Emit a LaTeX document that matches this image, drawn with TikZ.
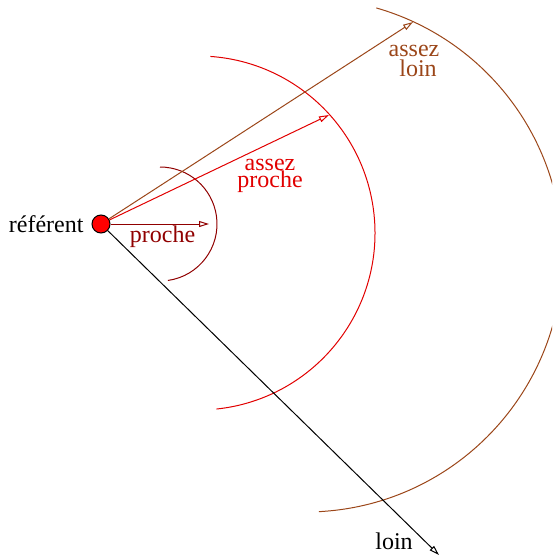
\documentclass[tikz,border=0pt]{standalone}
\usepackage{fontspec}
\setmainfont{Liberation Serif}
\usetikzlibrary{arrows.meta}
\definecolor{farbrown}{RGB}{155,70,25}
\definecolor{neardark}{RGB}{144,0,0}
\definecolor{midred}{RGB}{225,0,0}

\begin{document}
\begin{tikzpicture}[x=0.5pt, y=-0.5pt, line width=0.5pt,
    reach/.style={-{Triangle[open,length=5pt,width=3pt]}},
    lab/.style={anchor=base, inner sep=0pt, font=\fontsize{12}{14}\selectfont}]
    \useasboundingbox (0,0) rectangle (552,557);

    % the referent
    \node[circle, draw=black, fill=red, minimum size=9pt, inner sep=0pt] (ref) at (101,224) {};
    \node[lab, anchor=base east] (reflab) at (84,232) {référent};

    % zones
    \draw[neardark] (160,224) ++(82:57) arc[start angle=82, end angle=-90, radius=57];
    \draw[midred] (198,233) ++(84:177) arc[start angle=84, end angle=-86, radius=177];
    \begin{scope}
        \clip (0,0) rectangle (552,557);
        \draw[farbrown] (305.5,255) ++(87:257) arc[start angle=87, end angle=-74, radius=257];
    \end{scope}

    % arrow ends
    \coordinate (nearT) at (209,224);
    \coordinate (midT) at (329,115);
    \coordinate (farT) at (413,22);
    \coordinate (outT) at (439,555);

    \draw[reach, neardark] (ref) -- (nearT);
    \draw[reach, midred] (ref) -- (midT);
    \draw[reach, farbrown] (ref) -- (farT);
    \draw[reach, black] (ref) -- (outT);

    % labels
    \node[lab, neardark] (nearlab) at (162.5,242) {proche};
    \node[lab, midred, align=center, font=\fontsize{12}{8.5}\selectfont] (midlab) at (270,187) {assez\\proche};
    \node[lab, farbrown, align=center, font=\fontsize{12}{10}\selectfont] (farlab) at (414,76) {assez\\\hspace*{4pt}loin};
    \node[lab] (outlab) at (394,549) {loin};
\end{tikzpicture}
\end{document}
